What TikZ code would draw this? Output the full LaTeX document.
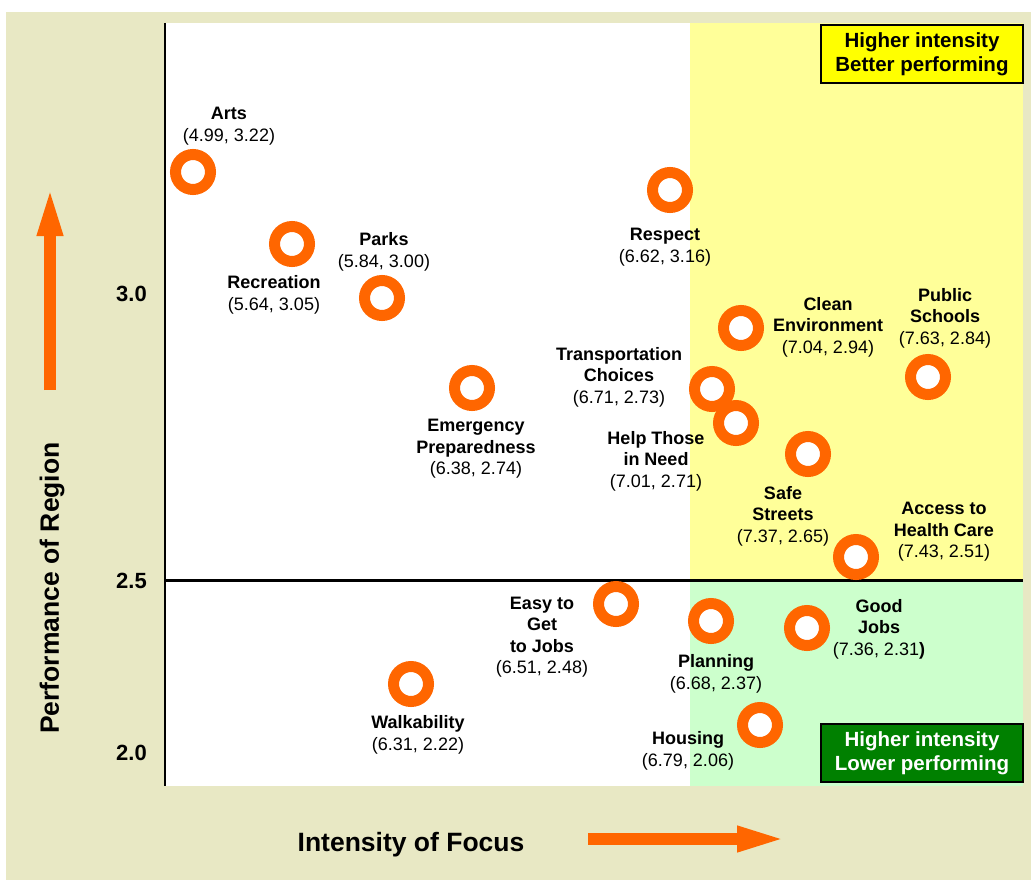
\documentclass[tikz,border=0pt]{standalone}
\usepackage{fontspec}
\setmainfont{Liberation Sans}
\usepackage{xcolor}
\usepackage{tikz}
\usetikzlibrary{arrows.meta}
\definecolor{panel}{HTML}{E8E8C4}
\definecolor{hiyel}{HTML}{FFFF99}
\definecolor{higrn}{HTML}{CCFFCC}
\definecolor{orng}{HTML}{FF6600}
\definecolor{keyyel}{HTML}{FFFF00}
\definecolor{keygrn}{HTML}{008000}
\tikzset{
  ring/.style={circle, draw=orng, fill=white, line width=11pt, minimum size=35pt, inner sep=0pt},
  lab/.style={align=center, inner sep=0pt, font=\fontsize{18}{21.5}\selectfont},
  tick/.style={anchor=east, inner sep=0pt, font=\fontsize{22}{24}\selectfont\bfseries},
  ttl/.style={inner sep=0pt, font=\fontsize{26.5}{30}\selectfont\bfseries},
  key/.style={draw=black, line width=2pt, align=center, minimum width=202pt, minimum height=58pt,
    inner sep=0pt, font=\fontsize{20.5}{24}\selectfont\bfseries},
  bigarrow/.style={draw=orng, line width=11.5pt, -{Triangle[width=23pt,length=50pt]}},
  axis/.style={draw=black, line width=2.5pt}
}

\begin{document}
\begin{tikzpicture}[x=1pt,y=-1pt]
  \useasboundingbox (0,0) rectangle (1031,880);
  % panel and quadrants
  \fill[panel] (6,12) rectangle (1031,880);
  \fill[white] (165,23) rectangle (1023,786);
  \fill[hiyel] (690,23) rectangle (1023,580);
  \fill[higrn] (690,580) rectangle (1023,786);
  \coordinate (TL) at (165,23);
  \coordinate (BL) at (165,786);
  \coordinate (ML) at (165,580);
  \coordinate (MR) at (1023,580);
  \draw[axis] (TL) -- (BL);
  \draw[axis, line width=3pt] (ML) -- (MR);

  % ticks and titles
  \node[tick] (t30) at (147,294) {3.0};
  \node[tick] (t25) at (147,581) {2.5};
  \node[tick] (t20) at (147,753) {2.0};
  \node[ttl, rotate=90] (ytitle) at (52,588) {Performance of Region};
  \node[ttl] (xtitle) at (411,845) {Intensity of Focus};
  \coordinate (ya) at (50,390);
  \coordinate (yb) at (50,186);
  \coordinate (xa) at (588,839);
  \coordinate (xb) at (787,839);
  \draw[bigarrow] (ya) -- (yb);
  \draw[bigarrow] (xa) -- (xb);

  % quadrant keys
  \node[key, fill=keyyel] (kbetter) at (922,54) {Higher intensity\\Better performing};
  \node[key, fill=keygrn, text=white] (klower) at (922,753) {Higher intensity\\Lower performing};

  % data points
  \node[ring] (arts) at (193,172) {};
  \node[ring] (recr) at (292,244) {};
  \node[ring] (parks) at (382,298) {};
  \node[ring] (resp) at (670,190) {};
  \node[ring] (emerg) at (472,388) {};
  \node[ring] (clean) at (741,328) {};
  \node[ring] (school) at (928,377) {};
  \node[ring] (trans) at (712,389) {};
  \node[ring] (help) at (736,423) {};
  \node[ring] (safe) at (808,454) {};
  \node[ring] (health) at (856,557) {};
  \node[ring] (easy) at (616,604) {};
  \node[ring] (plan) at (711,621) {};
  \node[ring] (jobs) at (807,628) {};
  \node[ring] (walk) at (411,684) {};
  \node[ring] (house) at (760,725) {};

  % labels
  \node[lab] (arts-l) at (229,126) {\textbf{Arts}\\(4.99, 3.22)};
  \node[lab] (recr-l) at (274,295) {\textbf{Recreation}\\(5.64, 3.05)};
  \node[lab] (parks-l) at (384,252) {\textbf{Parks}\\(5.84, 3.00)};
  \node[lab] (resp-l) at (665,247) {\textbf{Respect}\\(6.62, 3.16)};
  \node[lab] (emerg-l) at (476,449) {\textbf{Emergency}\\\textbf{Preparedness}\\(6.38, 2.74)};
  \node[lab] (trans-l) at (619,377) {\textbf{Transportation}\\\textbf{Choices}\\(6.71, 2.73)};
  \node[lab] (help-l) at (656,461) {\textbf{Help Those}\\\textbf{in Need}\\(7.01, 2.71)};
  \node[lab] (clean-l) at (828,327) {\textbf{Clean}\\\textbf{Environment}\\(7.04, 2.94)};
  \node[lab] (school-l) at (945,318) {\textbf{Public}\\\textbf{Schools}\\(7.63, 2.84)};
  \node[lab] (safe-l) at (783,516) {\textbf{Safe}\\\textbf{Streets}\\(7.37, 2.65)};
  \node[lab] (health-l) at (944,532) {\textbf{Access to}\\\textbf{Health Care}\\(7.43, 2.51)};
  \node[lab] (easy-l) at (542,637) {\textbf{Easy to}\\\textbf{Get}\\\textbf{to Jobs}\\(6.51, 2.48)};
  \node[lab] (plan-l) at (716,674) {\textbf{Planning}\\(6.68, 2.37)};
  \node[lab] (jobs-l) at (879,629) {\textbf{Good}\\\textbf{Jobs}\\(7.36, 2.31\textbf{)}};
  \node[lab] (walk-l) at (418,735) {\textbf{Walkability}\\(6.31, 2.22)};
  \node[lab] (house-l) at (688,751) {\textbf{Housing}\\(6.79, 2.06)};
\end{tikzpicture}
\end{document}
